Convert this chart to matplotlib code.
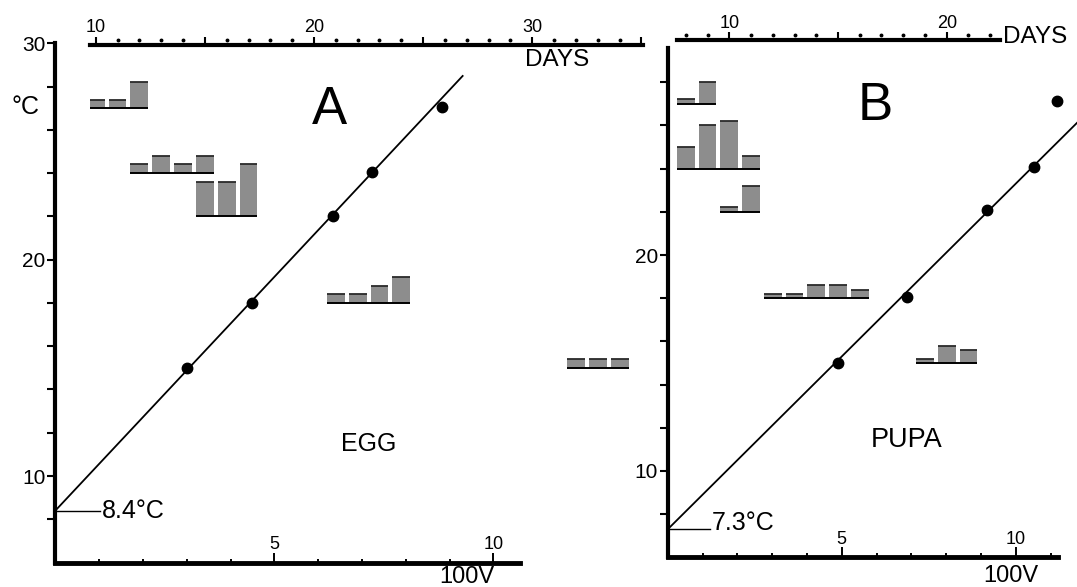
import numpy as np
import matplotlib
matplotlib.use("Agg")
from matplotlib import pyplot as plt
from matplotlib.transforms import offset_copy

plt.rcParams['font.family'] = ['Liberation Sans', 'DejaVu Sans']

W, H = 1077, 587

## data
# temperature levels (deg C) of the histograms and points
egg_temps = [27, 24, 22, 18, 15]
# days to hatch / frequency at each temperature
egg_days = [[10, 11, 12], [12, 13, 14, 15], [15, 16, 17], [21, 22, 23, 24], [32, 33, 34]]
egg_counts = [[1, 1, 3], [1, 2, 1, 2], [4, 4, 6], [1, 1, 2, 3], [1, 1, 1]]
# developmental rate 100/V and the temperature of each point
egg_rate = [8.82, 7.24, 6.35, 4.48, 3.01]
egg_pt_temps = [27.07, 24.05, 22.0, 18.0, 15.0]
egg_t0 = 8.4
egg_slope = 2.16
egg_line_end = 9.3

pupa_temps = [27, 24, 22, 18, 15]
pupa_days = [[8, 9], [8, 9, 10, 11], [10, 11], [12, 13, 14, 15, 16], [19, 20, 21]]
pupa_counts = [[1, 5], [5, 10, 11, 3], [1, 6], [1, 1, 3, 3, 2], [1, 4, 3]]
pupa_rate = [11.18, 10.53, 9.17, 6.87, 4.89]
pupa_pt_temps = [27.14, 24.09, 22.08, 18.07, 14.99]
pupa_t0 = 7.3
pupa_slope = 1.6
pupa_line_end = 11.8

fig = plt.figure(figsize=(W / 100, H / 100), dpi=100)


def box(x0, y0, x1, y1):
    # axes from a pixel box (top-left origin)
    return fig.add_axes([x0 / W, 1 - y1 / H, (x1 - x0) / W, (y1 - y0) / H])


def draw_panel(lay, temps, days, counts, rate, pt_temps, t0, slope, line_end, letter, stage):
    sx, sy = lay['sx'], lay['sy']
    ytop = lay['ytop']
    ax = box(lay['x0'], lay['ybase'] - (ytop - 6) * sy, lay['x0'] + lay['xmax'] * sx, lay['ybase'])
    ax.set_xlim(0, lay['xmax'])
    ax.set_ylim(6, ytop)
    ax.patch.set_visible(False)
    for s in ['top', 'right']:
        ax.spines[s].set_visible(False)
    ax.spines['left'].set_linewidth(3.0)
    ax.spines['bottom'].set_linewidth(3.5)

    yt = np.arange(8, ytop + 0.01, 2)
    ax.set_yticks(yt)
    ax.set_yticklabels([f'{t:g}' if t % 10 == 0 else '' for t in yt])
    ax.tick_params(axis='y', direction='out', length=6, width=1.5, pad=1, labelsize=15)

    xt = np.arange(1, int(lay['xmax']) + 1)
    ax.set_xticks([5, 10])
    ax.set_xticks([v for v in xt if v % 5], minor=True)
    ax.tick_params(axis='x', which='both', direction='in', labelbottom=False, width=1.4)
    ax.tick_params(axis='x', which='major', length=7)
    ax.tick_params(axis='x', which='minor', length=3)
    for v in [5, 10]:
        ax.annotate(str(v), (v, 6), xytext=(0, 10), textcoords='offset points',
                    ha='center', va='baseline', fontsize=13)

    xs = np.array([0, line_end])
    ax.plot(xs, t0 + slope * xs, color='k', lw=1.3, clip_on=False)
    ax.plot(rate, pt_temps, 'o', color='k', ms=7.5, clip_on=False)
    ax.plot([0, lay['thr_len']], [t0, t0], color='k', lw=1.0)
    ax.text(lay['thr_len'] + 0.04, lay['thr_ty'], f'{t0}°C', fontsize=18, va=lay['thr_va'])

    ax.text(*lay['letter_xy'], letter, fontsize=38, ha='center', va='center')
    ax.text(*lay['stage_xy'], stage, fontsize=lay['stage_fs'], ha='center', va='center')
    ax.text(*lay['v_xy'], '100V', fontsize=17, ha='center', va='center', clip_on=False)
    if lay.get('degc_xy'):
        ax.text(*lay['degc_xy'], '°C', fontsize=18, ha='center', va='center')

    # days axis with the histograms
    d10, sd = lay['d10'], lay['sd']
    dmin, dmax = lay['dlim']
    dtop = 6 + (lay['ybase'] - lay['dy']) / sy
    axd = box(d10 + sd * (dmin - 10), lay['dy'], d10 + sd * (dmax - 10), lay['ybase'])
    axd.set_xlim(dmin, dmax)
    axd.set_ylim(6, dtop)
    axd.patch.set_visible(False)
    for s in ['left', 'right', 'bottom']:
        axd.spines[s].set_visible(False)
    axd.spines['top'].set_linewidth(3.0)
    axd.set_yticks([])
    majors = [d for d in range(10, int(dmax) + 1) if d % 5 == 0]
    axd.set_xticks(majors)
    axd.set_xticklabels([str(d) if d % 10 == 0 else '' for d in majors])
    axd.tick_params(axis='x', top=True, bottom=False, labeltop=True, labelbottom=False,
                    direction='out', length=6, width=1.5, pad=0, labelsize=13)
    minors = [d for d in range(int(np.ceil(dmin)), int(dmax) + 1) if d % 5]
    axd.plot(minors, [dtop] * len(minors), ls='none', marker='o', ms=1.8, color='k',
             clip_on=False, transform=offset_copy(axd.transData, fig=fig, y=5, units='dots'))
    axd.text(*lay['days_xy'], 'DAYS', fontsize=lay['days_fs'], ha='center', va='center',
             clip_on=False)

    bw = 0.82
    for t, dd, cc in zip(temps, days, counts):
        dd = np.array(dd)
        hh = np.array(cc) * lay['unit']
        axd.bar(dd, hh, bottom=t, width=bw, color='#8d8d8d', edgecolor='none')
        axd.hlines(t + hh, dd - bw / 2, dd + bw / 2, color='#2a2a2a', lw=1.3)
        axd.hlines(t, dd.min() - bw / 2, dd.max() + bw / 2, color='k', lw=1.4)


lay_a = dict(x0=55.3, sx=43.8, xmax=10.6, ybase=562.6, sy=21.64, ytop=30,
             thr_len=1.02, thr_ty=8.4, thr_va='center',
             letter_xy=(6.27, 26.92), stage_xy=(7.16, 11.5), stage_fs=18,
             v_xy=(9.4, 5.33), degc_xy=(-0.69, 27.04),
             d10=95.7, sd=21.83, dlim=(9.74, 35.08), dy=44.5,
             days_xy=(31.13, 29.23), days_fs=17.5, unit=0.40)
lay_b = dict(x0=667.7, sx=34.8, xmax=11.22, ybase=557.4, sy=21.6, ytop=29.6,
             thr_len=1.22, thr_ty=7.25, thr_va='baseline',
             letter_xy=(5.96, 26.9), stage_xy=(6.87, 11.44), stage_fs=19.5,
             v_xy=(9.86, 5.14), degc_xy=None,
             d10=729.3, sd=21.74, dlim=(7.58, 22.45), dy=40.1,
             days_xy=(24.08, 30.1), days_fs=17.5, unit=0.20)

draw_panel(lay_a, egg_temps, egg_days, egg_counts, egg_rate, egg_pt_temps,
           egg_t0, egg_slope, egg_line_end, 'A', 'EGG')
draw_panel(lay_b, pupa_temps, pupa_days, pupa_counts, pupa_rate, pupa_pt_temps,
           pupa_t0, pupa_slope, pupa_line_end, 'B', 'PUPA')

fig.savefig('out.png', dpi=100)
